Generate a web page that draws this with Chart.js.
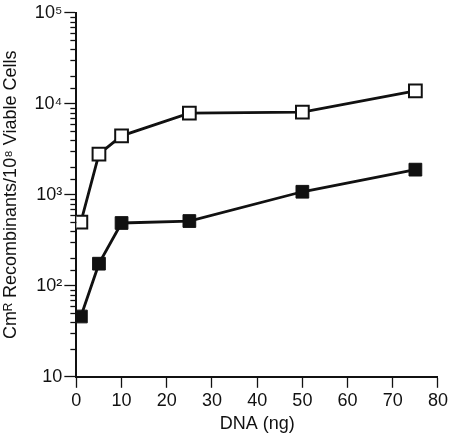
<!DOCTYPE html>
<html>
<head>
<meta charset="utf-8">
<script src="https://cdn.jsdelivr.net/npm/chart.js@4/dist/chart.umd.min.js"></script>
<style>
  html, body { margin: 0; padding: 0; background: #fff; }
  #wrap { width: 450px; height: 443px; }
</style>
</head>
<body>
<div id="wrap"><canvas id="c"></canvas></div>
<script>
const dnaNg = [1, 5, 10, 25, 50, 75];
const openSeries = [500, 2800, 4450, 7900, 8100, 13900];
const filledSeries = [46, 175, 490, 515, 1080, 1890];
const yTickLabels = {10: '10', 100: '10²', 1000: '10³', 10000: '10⁴', 100000: '10⁵'};
const xTitle = 'DNA (ng)';
const yTitle = 'Cmᴿ Recombinants/10⁸ Viable Cells';

const FONT = 'Liberation Sans, Arial, Helvetica, sans-serif';
const INK = '#111';

const minorTicks = {
  id: 'minorTicks',
  afterDraw(chart) {
    const y = chart.scales.y;
    const ctx = chart.ctx;
    ctx.save();
    ctx.strokeStyle = INK;
    ctx.lineWidth = 1.3;
    y.ticks.forEach(t => {
      if (yTickLabels[t.value] !== undefined) return;
      const py = Math.round(y.getPixelForValue(t.value)) + 0.5;
      ctx.beginPath();
      ctx.moveTo(y.right - 6, py);
      ctx.lineTo(y.right, py);
      ctx.stroke();
    });
    ctx.restore();
  }
};

new Chart(document.getElementById('c'), {
  type: 'line',
  data: {
    datasets: [
      {
        data: dnaNg.map((x, i) => ({x, y: openSeries[i]})),
        borderColor: INK,
        borderWidth: 2.8,
        pointStyle: 'rect',
        pointRadius: 9,
        pointBackgroundColor: '#fff',
        pointBorderColor: INK,
        pointBorderWidth: 2,
        fill: false,
        tension: 0
      },
      {
        data: dnaNg.map((x, i) => ({x, y: filledSeries[i]})),
        borderColor: INK,
        borderWidth: 2.8,
        pointStyle: 'rect',
        pointRadius: 9,
        pointBackgroundColor: INK,
        pointBorderColor: INK,
        pointBorderWidth: 1,
        fill: false,
        tension: 0
      }
    ]
  },
  options: {
    responsive: true,
    maintainAspectRatio: false,
    animation: false,
    layout: { padding: { top: 4, right: -3, left: 0, bottom: 8 } },
    plugins: { legend: { display: false }, tooltip: { enabled: false } },
    scales: {
      x: {
        type: 'linear',
        min: 0, max: 80,
        ticks: { stepSize: 10, color: INK, font: { family: FONT, size: 18 }, padding: 2 },
        grid: { drawOnChartArea: false, tickLength: 11, tickColor: INK, tickWidth: 1.3 },
        border: { display: true, color: INK, width: 2 },
        title: { display: true, text: xTitle, color: INK, font: { family: FONT, size: 18 }, padding: { top: 0, bottom: 0 } }
      },
      y: {
        type: 'logarithmic',
        min: 10, max: 100000,
        ticks: {
          autoSkip: false,
          major: { enabled: true },
          color: INK,
          font: { family: FONT, size: 18 },
          padding: 2,
          callback: (v) => yTickLabels[v] !== undefined ? yTickLabels[v] : ''
        },
        grid: {
          drawOnChartArea: false,
          tickLength: 12,
          tickWidth: 1.3,
          tickColor: (c) => (c.tick && yTickLabels[c.tick.value] !== undefined) ? INK : 'rgba(0,0,0,0)'
        },
        border: { display: true, color: INK, width: 2 },
        title: { display: true, text: yTitle, color: INK, font: { family: FONT, size: 18 }, padding: { top: 0, bottom: 11 } }
      }
    }
  },
  plugins: [minorTicks]
});
</script>
</body>
</html>
